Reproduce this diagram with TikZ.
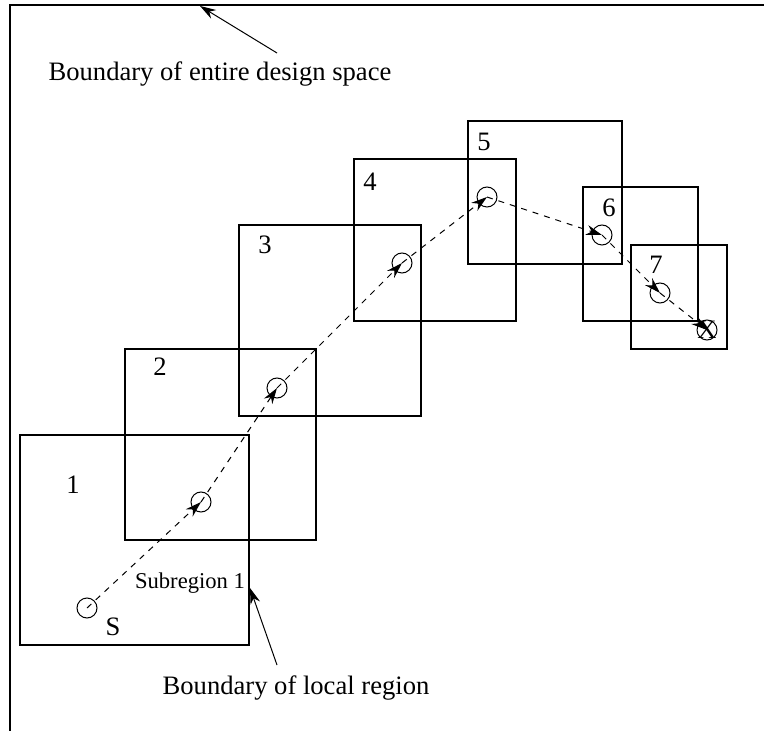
\documentclass[tikz,border=0pt]{standalone}
\usepackage{fontspec}
\setmainfont{Liberation Serif}
\usetikzlibrary{arrows.meta, positioning}

\begin{document}
\begin{tikzpicture}[
    x=0.5pt, y=-0.5pt,
    >={Stealth[length=8pt, width=5pt]},
    region/.style={draw, line width=0.6pt},
    pt/.style={draw, circle, minimum size=10pt, inner sep=0pt, line width=0.5pt},
    num/.style={font=\fontsize{13.3}{16}\selectfont, inner sep=0pt},
    note/.style={font=\fontsize{13.3}{16}\selectfont, inner sep=0pt},
    step path/.style={->, dashed, dash pattern=on 3pt off 3pt, line width=0.5pt},
]
    \useasboundingbox (0,0) rectangle (764,731);
    % design space boundary
    \draw[line width=0.9pt] (10,731) -- (10,5) -- (764,5);

    % local regions
    \draw[region] (20,435) rectangle (249,645);
    \draw[region] (125,349) rectangle (316,540);
    \draw[region] (239,225) rectangle (421,416);
    \draw[region] (354,159) rectangle (516,321);
    \draw[region] (468,121) rectangle (622,264);
    \draw[region] (583,187) rectangle (698,321);
    \draw[region] (631,245) rectangle (727,349);

    \node[num] (n1) at (73,485) {1};
    \node[num] (n2) at (160,367) {2};
    \node[num] (n3) at (265,245) {3};
    \node[num] (n4) at (370,182) {4};
    \node[num] (n5) at (484,142) {5};
    \node[num] (n6) at (609,208) {6};
    \node[num] (n7) at (656,265) {7};

    % search points
    \node[pt] (s) at (87,608) {};
    \node[pt] (p1) at (201,502) {};
    \node[pt] (p2) at (277,388) {};
    \node[pt] (p3) at (402,263) {};
    \node[pt] (p4) at (487,197) {};
    \node[pt] (p5) at (602,235) {};
    \node[pt] (p6) at (660,293) {};
    \node[pt] (x) at (707,330) {};
    \node[num] (xlab) at (x.center) {X};
    \node[num] (slab) at (113,627) {S};

    \draw[step path] (s.center) -- (p1.center);
    \draw[step path] (p1.center) -- (p2.center);
    \draw[step path] (p2.center) -- (p3.center);
    \draw[step path] (p3.center) -- (p4.center);
    \draw[step path] (p4.center) -- (p5.center);
    \draw[step path] (p5.center) -- (p6.center);
    \draw[step path] (p6.center) -- (x.center);

    % annotations
    \node[font=\fontsize{11.3}{13}\selectfont, inner sep=0pt] (sub) at (190,583) {Subregion 1};
    \node[note] (design) at (220,74) {Boundary of entire design space};
    \node[note] (local) at (296,688) {Boundary of local region};
    \coordinate (designtail) at (277,53);
    \coordinate (designtip) at (200,6);
    \coordinate (localtail) at (277,665);
    \coordinate (localtip) at (250,588);
    \draw[->, line width=0.5pt] (designtail) -- (designtip);
    \draw[->, line width=0.5pt] (localtail) -- (localtip);
\end{tikzpicture}
\end{document}
